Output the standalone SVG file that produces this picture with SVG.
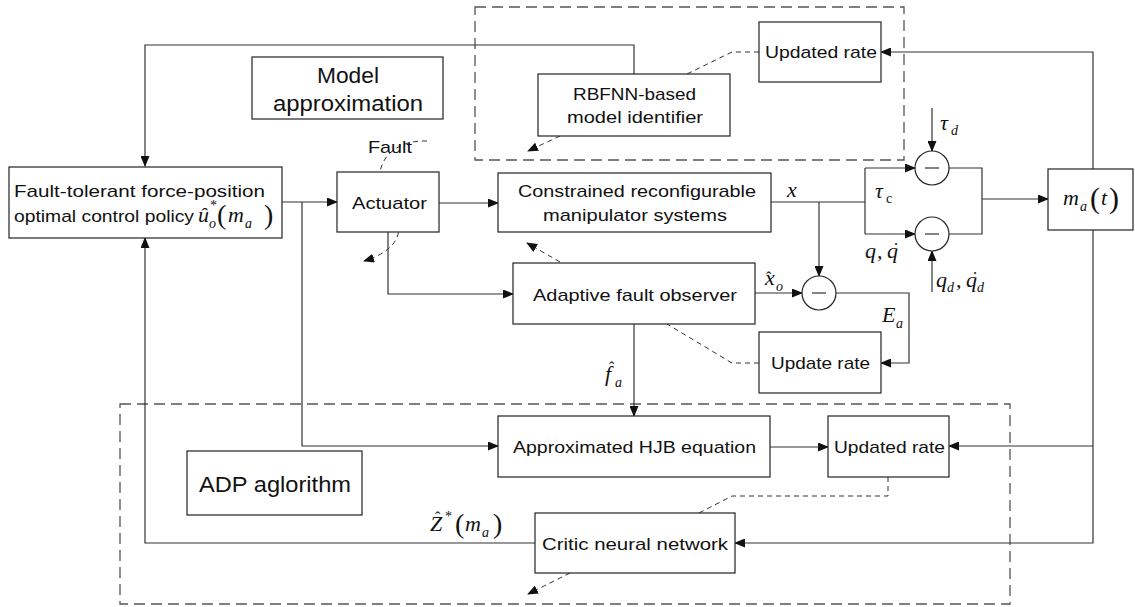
<svg xmlns="http://www.w3.org/2000/svg" width="1135" height="607" viewBox="0 0 1135 607">
  <style>
    .box { fill: #fff; stroke: #222; stroke-width: 1.2; }
    .grp { fill: none; stroke: #555; stroke-width: 1.3; stroke-dasharray: 11 6; }
    .ln { fill: none; stroke: #333; stroke-width: 1.2; }
    .dl { fill: none; stroke: #333; stroke-width: 1; stroke-dasharray: 5 4; }
    .t { font-family: "Liberation Sans", Arial, sans-serif; font-size: 17px; fill: #111; }
    .big { font-family: "Liberation Sans", Arial, sans-serif; font-size: 22px; fill: #111; }
    .m { font-family: "Liberation Serif", "Times New Roman", serif; font-style: italic; font-size: 22px; fill: #111; }
    .s { font-size: 14px; }
    .up { font-style: normal; }
    .sum { fill: #fff; stroke: #222; stroke-width: 1.2; }
  </style>
  <defs>
    <marker id="arr" markerWidth="11" markerHeight="9" refX="10" refY="4.5" orient="auto" markerUnits="userSpaceOnUse">
      <path d="M0,0 L11,4.5 L0,9 z" fill="#111"/>
    </marker>
  </defs>

  <!-- dashed grouping frames -->
  <g id="frames">
    <rect class="grp" x="475" y="7" width="429" height="153"/>
    <rect class="grp" x="120" y="404" width="890" height="200"/>
  </g>

  <!-- connectors -->
  <g id="connectors">
    <path class="ln" d="M634,74 V45 H145 V166" marker-end="url(#arr)"/>
    <path class="ln" d="M282,202 H337" marker-end="url(#arr)"/>
    <path class="ln" d="M302,202 V446 H498" marker-end="url(#arr)"/>
    <path class="ln" d="M439,203 H498" marker-end="url(#arr)"/>
    <path class="ln" d="M388,232 V294 H513" marker-end="url(#arr)"/>
    <path class="ln" d="M771,202 H865"/>
    <path class="ln" d="M865,168 V234"/>
    <path class="ln" d="M865,168 H915" marker-end="url(#arr)"/>
    <path class="ln" d="M865,234 H915" marker-end="url(#arr)"/>
    <path class="ln" d="M819,202 V276" marker-end="url(#arr)"/>
    <path class="ln" d="M932,108 V151" marker-end="url(#arr)"/>
    <path class="ln" d="M932,292 V251" marker-end="url(#arr)"/>
    <path class="ln" d="M949,168 H982 V234 H949"/>
    <path class="ln" d="M982,199 H1048" marker-end="url(#arr)"/>
    <path class="ln" d="M755,293 H802" marker-end="url(#arr)"/>
    <path class="ln" d="M836,293 H909 V363 H881" marker-end="url(#arr)"/>
    <path class="ln" d="M1093,169 V52 H881" marker-end="url(#arr)"/>
    <path class="ln" d="M1093,230 V543 H735" marker-end="url(#arr)"/>
    <path class="ln" d="M1093,446 H949" marker-end="url(#arr)"/>
    <path class="ln" d="M634,324 V416" marker-end="url(#arr)"/>
    <path class="ln" d="M770,447 H828" marker-end="url(#arr)"/>
    <path class="ln" d="M535,543 H145 V238" marker-end="url(#arr)"/>
    <!-- weight update paths -->
    <path class="dl" d="M759,52 H732 L687,74"/>
    <path class="dl" d="M560,136 L528,151" marker-end="url(#arr)"/>
    <path class="dl" d="M759,363 H732 L667,324"/>
    <path class="dl" d="M560,262 L527,243" marker-end="url(#arr)"/>
    <path class="dl" d="M888,477 V496 H732 L699,513"/>
    <path class="dl" d="M570,573 L528,594" marker-end="url(#arr)"/>
    <!-- fault injection -->
    <path class="dl" d="M427,141 C405,140 386,150 381,168 C377,186 390,200 396,213 C403,230 400,250 364,261" marker-end="url(#arr)"/>
    <text class="t" x="368" y="153" textLength="44" lengthAdjust="spacingAndGlyphs">Fault</text>
  </g>

  <g id="policy">
    <rect class="box" x="9" y="167" width="273" height="71"/>
    <text class="t" x="14" y="197" textLength="251" lengthAdjust="spacingAndGlyphs">Fault-tolerant force-position</text>
    <text class="t" x="14" y="222" textLength="180" lengthAdjust="spacingAndGlyphs">optimal control policy</text>
    <text class="m" x="198" y="222">û<tspan class="s" x="209" y="228">o</tspan><tspan class="s up" x="210" y="210">*</tspan><tspan class="up" x="217" y="224" font-size="28">(</tspan><tspan x="228" y="222">m</tspan><tspan class="s" x="245" y="228">a</tspan><tspan class="up" x="264" y="224" font-size="28">)</tspan></text>
  </g>

  <g id="actuator">
    <rect class="box" x="337" y="172" width="102" height="60"/>
    <text class="t" x="352" y="209" textLength="75" lengthAdjust="spacingAndGlyphs">Actuator</text>
  </g>

  <g id="model-approximation">
    <rect class="box" x="252" y="57" width="191" height="62"/>
    <text class="big" x="317" y="83" textLength="62" lengthAdjust="spacingAndGlyphs">Model</text>
    <text class="big" x="273" y="111" textLength="150" lengthAdjust="spacingAndGlyphs">approximation</text>
  </g>

  <g id="rbfnn-identifier">
    <rect class="box" x="538" y="74" width="192" height="62"/>
    <text class="t" x="573" y="100" textLength="123" lengthAdjust="spacingAndGlyphs">RBFNN-based</text>
    <text class="t" x="567" y="123" textLength="136" lengthAdjust="spacingAndGlyphs">model identifier</text>
  </g>

  <g id="updated-rate-identifier">
    <rect class="box" x="759" y="22" width="122" height="60"/>
    <text class="t" x="765" y="58" textLength="112" lengthAdjust="spacingAndGlyphs">Updated rate</text>
  </g>

  <g id="manipulator">
    <rect class="box" x="498" y="173" width="273" height="59"/>
    <text class="t" x="518" y="197" textLength="238" lengthAdjust="spacingAndGlyphs">Constrained reconfigurable</text>
    <text class="t" x="543" y="221" textLength="184" lengthAdjust="spacingAndGlyphs">manipulator systems</text>
  </g>

  <g id="fault-observer">
    <rect class="box" x="513" y="263" width="242" height="61"/>
    <text class="t" x="533" y="301" textLength="204" lengthAdjust="spacingAndGlyphs">Adaptive fault observer</text>
  </g>

  <g id="update-rate-observer">
    <rect class="box" x="759" y="332" width="122" height="61"/>
    <text class="t" x="771" y="369" textLength="99" lengthAdjust="spacingAndGlyphs">Update rate</text>
  </g>

  <g id="sum-torque">
    <circle class="sum" cx="932" cy="168" r="17"/>
    <line class="ln" x1="925" y1="168" x2="939" y2="168"/>
  </g>
  <g id="sum-position">
    <circle class="sum" cx="932" cy="234" r="17"/>
    <line class="ln" x1="925" y1="234" x2="939" y2="234"/>
  </g>
  <g id="sum-state">
    <circle class="sum" cx="819" cy="293" r="17"/>
    <line class="ln" x1="812" y1="293" x2="826" y2="293"/>
  </g>

  <g id="ma">
    <rect class="box" x="1048" y="169" width="85" height="61"/>
    <text class="m" x="1063" y="205">m<tspan class="s" x="1080" y="211">a</tspan><tspan class="up" x="1090" y="208" font-size="30">(</tspan><tspan x="1101" y="205">t</tspan><tspan class="up" x="1109" y="208" font-size="30">)</tspan></text>
  </g>

  <g id="hjb">
    <rect class="box" x="498" y="416" width="272" height="61"/>
    <text class="t" x="513" y="453" textLength="243" lengthAdjust="spacingAndGlyphs">Approximated HJB equation</text>
  </g>

  <g id="updated-rate-critic">
    <rect class="box" x="828" y="416" width="121" height="61"/>
    <text class="t" x="834" y="453" textLength="111" lengthAdjust="spacingAndGlyphs">Updated rate</text>
  </g>

  <g id="critic">
    <rect class="box" x="535" y="513" width="200" height="60"/>
    <text class="t" x="542" y="550" textLength="186" lengthAdjust="spacingAndGlyphs">Critic neural network</text>
  </g>

  <g id="adp">
    <rect class="box" x="187" y="451" width="175" height="64"/>
    <text class="big" x="199" y="492" textLength="152" lengthAdjust="spacingAndGlyphs">ADP aglorithm</text>
  </g>

  <!-- signal labels -->
  <g id="labels">
    <text class="m" x="940" y="130">τ<tspan class="s" x="951" y="135">d</tspan></text>
    <text class="m" x="875" y="198">τ<tspan class="s up" x="886" y="203">c</tspan></text>
    <text class="m" x="787" y="197">x</text>
    <text class="m" x="865" y="258">q<tspan x="877">,</tspan><tspan x="887">q</tspan><tspan class="up" x="893" y="256" font-size="18">˙</tspan></text>
    <text class="m" x="936" y="287">q<tspan class="s" x="947" y="292">d</tspan><tspan x="956" y="287">,</tspan><tspan x="966">q</tspan><tspan class="up" x="972" y="285" font-size="18">˙</tspan><tspan class="s" x="977" y="292">d</tspan></text>
    <text class="m" x="765" y="285">x<tspan class="up" x="766" y="283" font-size="16">ˆ</tspan><tspan class="s" x="776" y="291">o</tspan></text>
    <text class="m" x="882" y="322">E<tspan class="s" x="896" y="328">a</tspan></text>
    <text class="m" x="605" y="381">f<tspan class="up" x="609" y="373" font-size="16">ˆ</tspan><tspan class="s" x="615" y="387">a</tspan></text>
    <text class="m" x="430" y="531">Z<tspan class="up" x="435" y="523" font-size="16">ˆ</tspan><tspan class="s up" x="445" y="521">*</tspan><tspan class="up" x="455" y="533" font-size="28">(</tspan><tspan x="465" y="531">m</tspan><tspan class="s" x="482" y="537">a</tspan><tspan class="up" x="493" y="533" font-size="28">)</tspan></text>
  </g>
</svg>
